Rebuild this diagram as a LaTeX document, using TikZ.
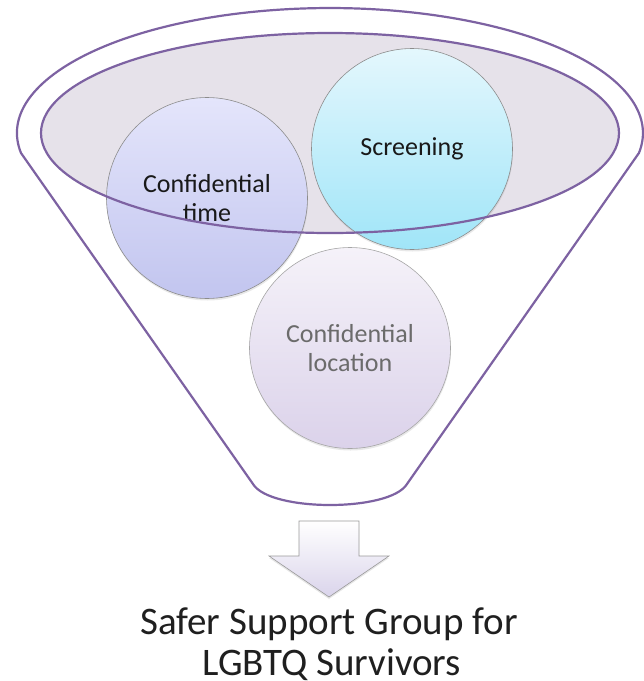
\documentclass[tikz,border=0pt]{standalone}
\usepackage{fontspec}
\setmainfont{Carlito}
\usetikzlibrary{shadows}
\definecolor{funnelc}{HTML}{7D62A2}
\definecolor{ellfill}{HTML}{E6E2EA}
\definecolor{timetop}{HTML}{E4E5FB}
\definecolor{timebot}{HTML}{C2C5EF}
\definecolor{scrtop}{HTML}{E4F7FD}
\definecolor{scrbot}{HTML}{A0E5F8}
\definecolor{loctop}{HTML}{F5F2F9}
\definecolor{locbot}{HTML}{DBD2EA}
\definecolor{arrbot}{HTML}{DAD4EB}
\tikzset{
  funnelline/.style={draw=funnelc, line width=2.2pt},
  circ/.style={circle, minimum size=201pt, inner sep=0pt, draw=black!45, line width=0.6pt,
    align=center, font=\fontsize{26}{29}\selectfont, text=black!90,
    drop shadow={opacity=0.18, shadow xshift=0.5pt, shadow yshift=-2pt}},
  bigtext/.style={font=\fontsize{39}{43}\selectfont, text=black!88, anchor=base, inner sep=0pt}
}
\begin{document}
\begin{tikzpicture}[x=1pt,y=-1pt]
\useasboundingbox (0,0) rectangle (644,681);
% funnel outline
\draw[funnelline, fill=white] (21,153) arc[start angle=170.8, end angle=369.2, x radius=313, y radius=125]
  -- (407,484) .. controls (390,512) and (270,512) .. (253,484) -- cycle;
% inner ellipse fill
\fill[ellfill] (330,133) ellipse[x radius=289, y radius=100];
% circles
\node[circ, top color=timetop, bottom color=timebot] (time) at (207,198) {Confidential\\time};
\node[circ, top color=scrtop, bottom color=scrbot] (screen) at (412,149) {Screening};
\node[circ, top color=loctop, bottom color=locbot, text=black!58, draw=black!35] (loc) at (350,348) {Confidential\\location};
% inner ellipse outline
\draw[funnelline] (330,133) ellipse[x radius=289, y radius=100];
% arrow
\draw[draw=black!40, line width=0.6pt, top color=white, bottom color=arrbot,
  drop shadow={opacity=0.2, shadow xshift=0pt, shadow yshift=-2pt}]
  (299,521) -- (359,521) -- (359,556) -- (389,556) -- (329,597) -- (269,556) -- (299,556) -- cycle;
% label
\node[bigtext] (t1) at (329,634) {Safer Support Group for};
\node[bigtext, text depth=0pt] (t2) at (332,675) {LGBTQ Survivors};
\end{tikzpicture}
\end{document}
